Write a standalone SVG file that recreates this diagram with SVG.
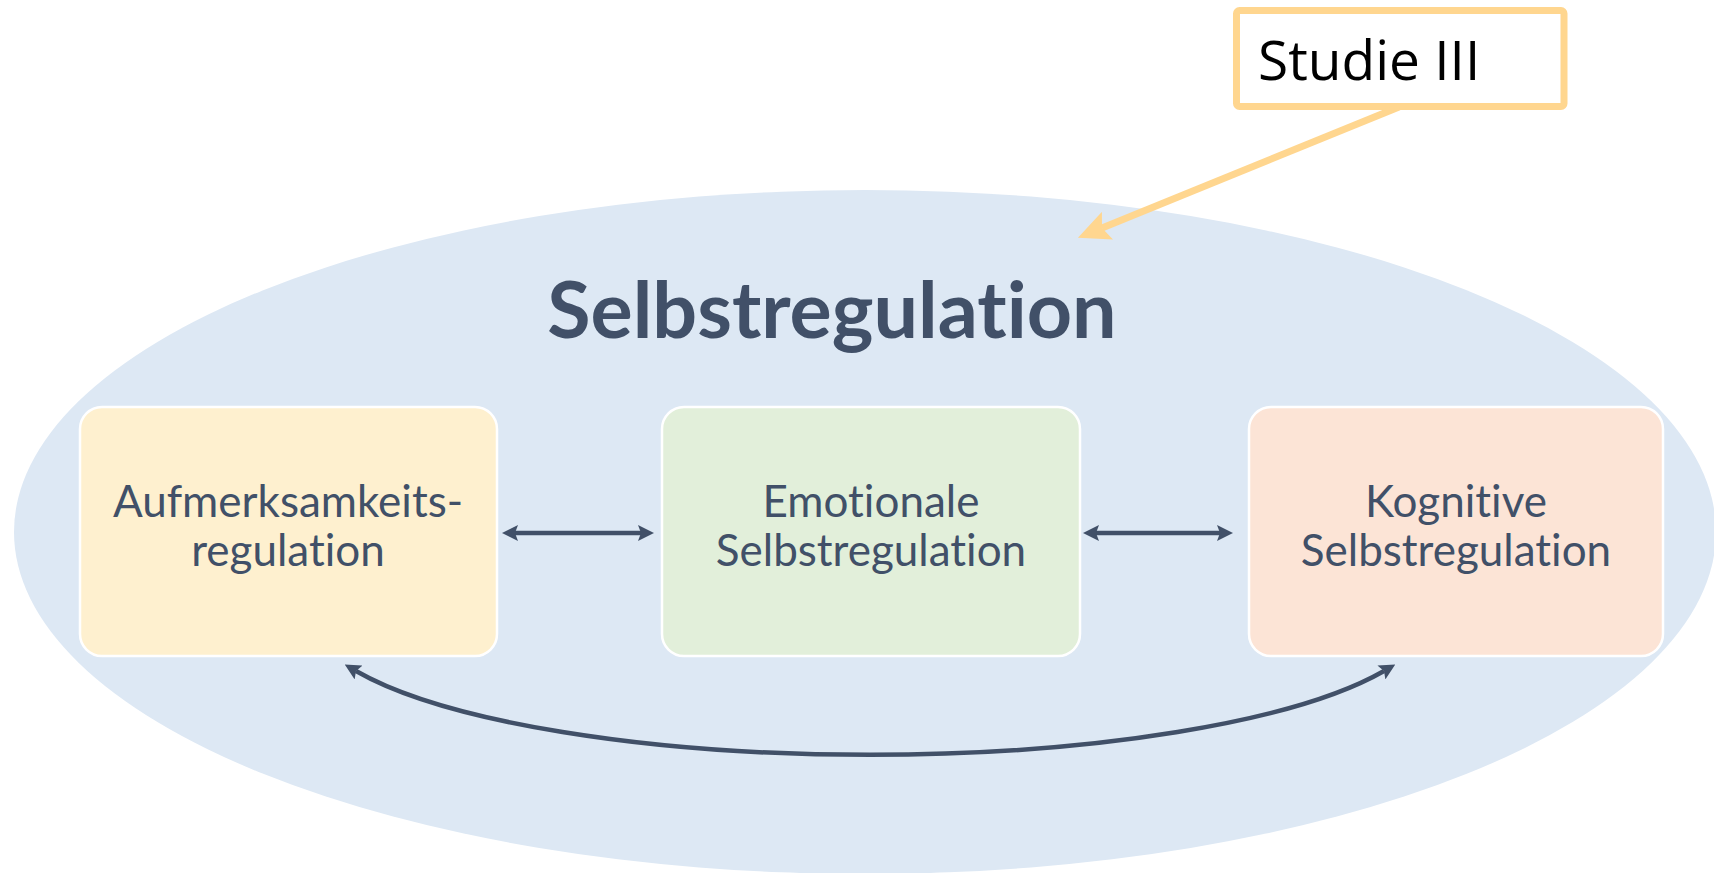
<svg xmlns="http://www.w3.org/2000/svg" width="1714" height="873" viewBox="0 0 1714 873">
  <style>
    text { font-variant-ligatures: none; font-feature-settings: "liga" 0, "clig" 0; }
    .box { stroke: #ffffff; stroke-width: 2.5; }
    .label { font-family: Lato, "Open Sans", sans-serif; font-size: 44px; fill: #415068; text-anchor: middle; }
    .title { font-family: Lato, "Open Sans", sans-serif; font-size: 79px; font-weight: 700; fill: #415068; text-anchor: middle; }
    .link { fill: none; stroke: #415068; stroke-width: 4.5; }
    .note { font-family: "Open Sans", "Noto Sans", sans-serif; font-size: 55px; fill: #000000; }
  </style>
  <defs>
    <marker id="head" viewBox="0 0 16 16" refX="3" refY="8" markerWidth="16" markerHeight="16" markerUnits="userSpaceOnUse" orient="auto-start-reverse">
      <path d="M0,0 L16,8 L0,16 L3,8 z" fill="#415068"/>
    </marker>
    <marker id="noteHead" viewBox="0 0 32 30" refX="6" refY="15" markerWidth="32" markerHeight="30" markerUnits="userSpaceOnUse" orient="auto">
      <path d="M0,0 L32,15 L0,30 L6,15 z" fill="#FFD68F"/>
    </marker>
  </defs>

  <rect width="1714" height="873" fill="#ffffff"/>

  <!-- background ellipse with heading -->
  <g id="frame">
    <ellipse cx="865" cy="532" rx="851" ry="342" fill="#DDE8F4"/>
    <text class="title" x="832" y="338">Selbstregulation</text>
  </g>

  <g id="node-attention">
    <rect class="box" x="80" y="407" width="417" height="249" rx="22" fill="#FEF0CF"/>
    <text class="label" x="288" y="517">Aufmerksamkeits-</text>
    <text class="label" x="288" y="566">regulation</text>
  </g>

  <g id="node-emotional">
    <rect class="box" x="662" y="407" width="418" height="249" rx="22" fill="#E2EFDA"/>
    <text class="label" x="871" y="517">Emotionale</text>
    <text class="label" x="871" y="566">Selbstregulation</text>
  </g>

  <g id="node-cognitive">
    <rect class="box" x="1249" y="407" width="414" height="249" rx="22" fill="#FCE4D6"/>
    <text class="label" x="1456" y="517">Kognitive</text>
    <text class="label" x="1456" y="566">Selbstregulation</text>
  </g>

  <g id="node-study">
    <rect x="1236.5" y="10.5" width="327.5" height="96" rx="3" fill="#ffffff" stroke="#FFD68F" stroke-width="7"/>
    <text class="note" x="1258" y="80">Studie III</text>
  </g>

  <g id="connectors">
    <path class="link" d="M515,533 L641,533" marker-start="url(#head)" marker-end="url(#head)"/>
    <path class="link" d="M1096,533 L1220,533" marker-start="url(#head)" marker-end="url(#head)"/>
    <path class="link" d="M356,671 A560 139 0 0 0 1384,671" marker-start="url(#head)" marker-end="url(#head)"/>
    <path d="M1399,107 L1102,228" fill="none" stroke="#FFD68F" stroke-width="7" marker-end="url(#noteHead)"/>
  </g>
</svg>
